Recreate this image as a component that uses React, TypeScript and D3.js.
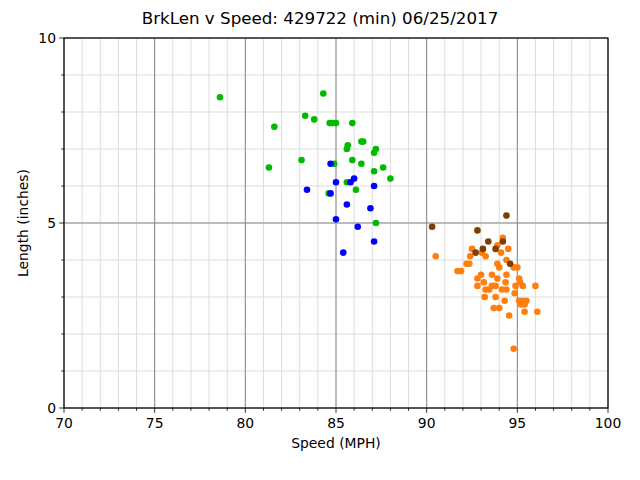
import React from "react";
import * as d3 from "d3";

const greenX = [78.6, 84.3, 83.3, 83.8, 84.65, 84.8, 85.0, 85.9, 81.6, 85.65, 85.6, 86.4, 86.5, 87.2, 87.1, 83.1, 85.9, 86.4, 84.9, 81.3, 87.6, 87.1, 88.0, 85.6, 86.1, 84.6, 87.2];
const greenY = [8.4, 8.5, 7.9, 7.8, 7.7, 7.7, 7.7, 7.7, 7.6, 7.1, 7.0, 7.2, 7.2, 7.0, 6.9, 6.7, 6.7, 6.6, 6.6, 6.5, 6.5, 6.4, 6.2, 6.1, 5.9, 5.8, 5.0];

const blueX = [84.7, 85.0, 86.0, 85.8, 87.1, 83.4, 84.7, 85.6, 86.9, 85.0, 86.2, 87.1, 85.4];
const blueY = [6.6, 6.1, 6.2, 6.1, 6.0, 5.9, 5.8, 5.5, 5.4, 5.1, 4.9, 4.5, 4.2];

const orangeX = [90.5, 91.7, 91.9, 92.2, 92.35, 92.4, 92.5, 93.05, 93.25, 93.0, 92.8, 92.8, 93.15, 93.25, 93.2, 93.6, 93.45, 93.6, 93.8, 93.9, 93.8, 93.9, 94.0, 93.7, 94.0, 94.2, 94.1, 94.5, 94.4, 94.4, 94.35, 94.15, 94.4, 94.3, 94.55, 94.8, 95.0, 95.1, 95.15, 94.9, 95.3, 96.0, 94.85, 95.1, 95.3, 95.5, 95.2, 95.4, 95.4, 96.1, 94.8, 93.9];
const orangeY = [4.1, 3.7, 3.7, 3.9, 3.9, 4.1, 4.3, 4.2, 4.1, 3.6, 3.5, 3.3, 3.4, 3.2, 3.0, 3.6, 3.2, 3.3, 3.3, 3.5, 3.0, 3.9, 3.8, 2.7, 2.7, 4.6, 4.2, 4.3, 4.0, 3.6, 3.4, 3.2, 3.2, 2.9, 2.5, 3.8, 3.8, 3.5, 3.4, 3.3, 3.3, 3.3, 3.1, 2.9, 2.9, 2.9, 2.8, 2.8, 2.6, 2.6, 1.6, 4.4];

const brownX = [94.4, 90.3, 92.8, 93.4, 94.2, 93.1, 93.8, 92.7, 94.6];
const brownY = [5.2, 4.9, 4.8, 4.5, 4.5, 4.3, 4.3, 4.2, 3.9];

const xMajor = [70, 75, 80, 85, 90, 95, 100];
const yMajor = [0, 5, 10];

const W = 640, H = 480;
const L = 64, R = 608, T = 38, B = 408;

export default function App() {
  const x = d3.scaleLinear().domain([70, 100]).range([L, R]);
  const y = d3.scaleLinear().domain([0, 10]).range([B, T]);
  const xMinor = d3.range(70, 101, 1);
  const yMinor = d3.range(0, 11, 1);
  const font = "DejaVu Sans";
  const series = [
    { xs: greenX, ys: greenY, c: "#00bb00" },
    { xs: blueX, ys: blueY, c: "#0000ff" },
    { xs: orangeX, ys: orangeY, c: "#ff7f0e" },
    { xs: brownX, ys: brownY, c: "#7f3f00" },
  ];
  return (
    <svg width={W} height={H} style={{ position: "absolute", left: 0, top: 0, background: "#fff" }} fontFamily={font}>
      <rect x={0} y={0} width={W} height={H} fill="#fff" />
      {xMinor.map((v) => (
        <line key={"xm" + v} x1={x(v)} x2={x(v)} y1={T} y2={B} stroke="#dddddd" strokeWidth={1} />
      ))}
      {yMinor.map((v) => (
        <line key={"ym" + v} x1={L} x2={R} y1={y(v)} y2={y(v)} stroke="#dddddd" strokeWidth={1} />
      ))}
      {xMajor.map((v) => (
        <line key={"xM" + v} x1={x(v)} x2={x(v)} y1={T} y2={B} stroke="#888888" strokeWidth={1} />
      ))}
      {yMajor.map((v) => (
        <line key={"yM" + v} x1={L} x2={R} y1={y(v)} y2={y(v)} stroke="#888888" strokeWidth={1} />
      ))}
      {series.map((s, si) =>
        s.xs.map((xv, i) => (
          <circle key={si + "-" + i} cx={x(xv)} cy={y(s.ys[i])} r={3.3} fill={s.c} />
        ))
      )}
      <rect x={L} y={T} width={R - L} height={B - T} fill="none" stroke="#000" strokeWidth={1.1} />
      {xMinor.map((v) => (
        <line key={"xt" + v} x1={x(v)} x2={x(v)} y1={B} y2={B + (v % 5 === 0 ? 4.9 : 2.8)} stroke="#000" strokeWidth={0.8} />
      ))}
      {yMinor.map((v) => (
        <line key={"yt" + v} x1={L} x2={L - (v % 5 === 0 ? 4.9 : 2.8)} y1={y(v)} y2={y(v)} stroke="#000" strokeWidth={0.8} />
      ))}
      {xMajor.map((v) => (
        <text key={"xl" + v} x={x(v)} y={B + 20} fontSize={13.9} textAnchor="middle" fill="#000">{v}</text>
      ))}
      {yMajor.map((v) => (
        <text key={"yl" + v} x={L - 8} y={y(v) + 5} fontSize={13.9} textAnchor="end" fill="#000">{v}</text>
      ))}
      <text x={(L + R) / 2} y={448} fontSize={13.9} textAnchor="middle" fill="#000">Speed (MPH)</text>
      <text transform={`translate(28,${(T + B) / 2}) rotate(-90)`} fontSize={13.9} textAnchor="middle" fill="#000">Length (inches)</text>
      <text x={320} y={24} fontSize={16.7} textAnchor="middle" fill="#000">BrkLen v Speed: 429722 (min) 06/25/2017</text>
    </svg>
  );
}
